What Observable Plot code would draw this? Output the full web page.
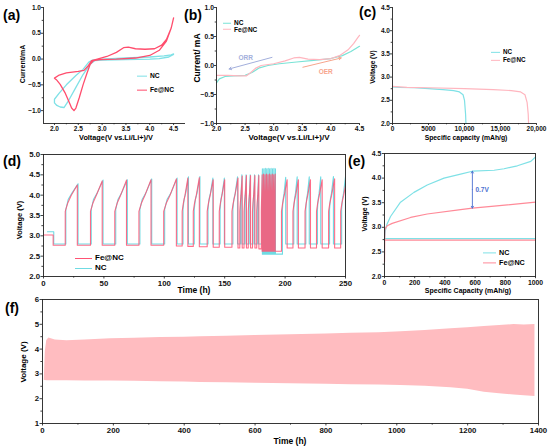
<!DOCTYPE html>
<html><head><meta charset="utf-8">
<script src="https://cdn.jsdelivr.net/npm/d3@7"></script>
<script src="https://cdn.jsdelivr.net/npm/@observablehq/plot@0.6"></script>
<style>
body{margin:0;background:#fff;}
#fig{position:relative;width:550px;height:448px;overflow:hidden;background:#fff;font-family:"Liberation Sans",Arial,sans-serif;font-weight:bold;color:#000;}
.t{position:absolute;white-space:nowrap;font-weight:bold;line-height:1;}
.rot{transform:translate(-50%,-50%) rotate(-90deg);}
.ctr{transform:translate(-50%,-50%);}
.lft{transform:translate(0,-50%);}
.leg{position:absolute;display:flex;align-items:center;white-space:nowrap;line-height:1;transform:translate(0,-50%);font-weight:bold;}
.sw{display:inline-block;height:0;border-top:1.6px solid;margin-right:3px;}
</style></head><body><div id="fig"></div><script>
// ---------- data ----------
// (a) CV curves
const aNC_V = [4.5,4.4,4.2,4.0,3.5,3.0,2.85,2.75,2.6,2.45,2.3,2.2,2.12,2.05,2.0,2.0,2.1,2.25,2.45,2.6,2.72,2.8,3.0,3.5,4.0,4.3,4.45,4.5];
const aNC_I = [0.09,0.04,0.01,0.0,-0.01,-0.02,-0.03,-0.1,-0.3,-0.55,-0.8,-0.94,-0.93,-0.9,-0.85,-0.78,-0.66,-0.5,-0.32,-0.2,-0.06,-0.02,0.0,0.02,0.04,0.06,0.08,0.1];
const aFe_V = [2.0,2.1,2.25,2.5,2.62,2.7,2.78,2.9,3.1,3.3,3.45,3.55,3.7,3.9,4.1,4.25,4.35,4.45,4.5,4.45,4.35,4.2,4.0,3.7,3.3,2.95,2.82,2.75,2.68,2.6,2.52,2.45,2.41,2.36,2.3,2.22,2.12,2.04,2.0];
const aFe_I = [-0.37,-0.31,-0.27,-0.24,-0.22,-0.14,-0.03,0.0,0.05,0.13,0.22,0.23,0.2,0.19,0.2,0.27,0.38,0.6,0.8,0.6,0.35,0.17,0.07,0.02,0.0,-0.01,-0.03,-0.1,-0.28,-0.5,-0.75,-0.95,-1.0,-0.95,-0.82,-0.65,-0.49,-0.4,-0.37];
// (b) LSV curves
const bNC_V = [2.0,2.05,2.15,2.3,2.5,2.62,2.75,2.9,3.1,3.4,3.7,4.0,4.2,4.35,4.5];
const bNC_I = [-0.3,-0.23,-0.19,-0.18,-0.17,-0.12,-0.04,0.0,0.03,0.06,0.09,0.12,0.17,0.24,0.33];
const bFe_V = [2.0,2.2,2.4,2.52,2.6,2.68,2.78,3.0,3.2,3.35,3.45,3.6,3.8,4.0,4.15,4.3,4.4,4.47,4.5];
const bFe_I = [-0.17,-0.17,-0.18,-0.18,-0.12,-0.05,0.0,0.03,0.08,0.13,0.14,0.11,0.1,0.12,0.17,0.27,0.38,0.48,0.52];
const bArrowLabels = ["ORR","OER"];
const bArrowX1 = [2.97,3.51], bArrowY1 = [0.14,-0.03], bArrowX2 = [2.22,4.18], bArrowY2 = [-0.06,0.13];
const bLabelX = [2.51,3.91], bLabelY = [0.13,-0.11];
// (c) discharge curves
const cNC_C = [0,1000,3000,5000,7000,8500,9300,9800,10000,10150,10200];
const cNC_V = [2.79,2.78,2.77,2.75,2.73,2.71,2.68,2.62,2.5,2.2,2.0];
const cFe_C = [0,2000,5000,10000,14000,16500,17800,18400,18700,18850,18900];
const cFe_V = [2.8,2.78,2.77,2.75,2.73,2.71,2.68,2.62,2.45,2.2,2.0];
// (d) cycling: initial segment + cycles (charge start, peak time, peak voltage, following discharge voltage)
const dFeInitT = [0,8,8], dFeInitV = [3.02,3.02,2.77];
const dFeStart = [18,38.9,59,79,99.5,114.8,124,135.5,145.5,156,162.5,166,169.5,173,176.5,180.3,181.5,182.7,183.9,185.1,186.3,187.5,188.7,189.9,191.1,197,206.5,216.5,226,236,246];
const dFePeak  = [28,48.6,68.7,89,110,119.5,129,140.5,150,161,164.5,168,171.4,175,178.3,181,182.2,183.4,184.6,185.8,187,188.2,189.4,190.6,191.8,201.7,211,221,230.7,241,251];
const dFePeakV = [4.25,4.35,4.37,4.38,4.4,4.42,4.43,4.38,4.38,4.42,4.47,4.48,4.48,4.48,4.48,4.5,4.52,4.5,4.52,4.5,4.52,4.5,4.52,4.5,4.52,4.38,4.38,4.38,4.38,4.4,4.4];
const dFeBase  = [2.77,2.77,2.77,2.77,2.75,2.74,2.73,2.72,2.72,2.7,2.7,2.7,2.7,2.7,2.68,2.62,2.62,2.62,2.62,2.62,2.62,2.62,2.62,2.62,2.62,2.7,2.7,2.7,2.7,2.7,2.7];
const dFeKneeV = [3.6,3.8,4.0];
const dNCInitT = [3.3,8.5,8.5], dNCInitV = [3.1,3.1,2.8];
const dNCStart = [18.5,39.5,59.8,79.8,100.3,115.5,124.8,136.2,146.2,156.8,163,166.5,170,173.5,177,180.6,181.8,183,184.2,185.4,186.6,187.8,189,190.2,191.4,197.8,207.2,217.2,226.8,236.8,246.8];
const dNCPeak  = [28.6,49.3,69.4,89.6,110.6,120,129.5,140.2,149.7,160.6,164.2,167.7,171.1,174.7,178,181.2,182.4,183.6,184.8,186,187.2,188.4,189.6,190.8,192,200.5,210,220,229.5,240,250];
const dNCPeakV = [4.28,4.37,4.38,4.4,4.42,4.45,4.46,4.42,4.42,4.45,4.5,4.5,4.5,4.5,4.5,4.65,4.65,4.66,4.65,4.66,4.65,4.66,4.65,4.66,4.65,4.44,4.45,4.45,4.45,4.46,4.46];
const dNCBase  = [2.8,2.8,2.8,2.8,2.8,2.8,2.8,2.8,2.8,2.8,2.8,2.8,2.8,2.8,2.8,2.55,2.55,2.55,2.55,2.55,2.55,2.55,2.55,2.55,2.55,2.8,2.8,2.8,2.8,2.8,2.8];
const dNCKneeV = [3.65,3.9,4.05];
const kneeFrac = [0,0.2,0.5];
// (e) charge/discharge profile
const eNC_C = [0,5,15,40,106,195,283,394,504,582,726,792,880,969,1000];
const eNC_V = [2.77,2.92,3.05,3.22,3.51,3.71,3.86,4.0,4.08,4.14,4.16,4.19,4.25,4.34,4.43];
const eFe_C = [0,2,10,18,51,173,283,504,582,726,1000];
const eFe_V = [2.3,2.95,3.0,3.03,3.08,3.2,3.27,3.36,3.39,3.43,3.51];
const eDisC = [0,1000];
const eNC_D = [2.77,2.77];
const eFe_D = [2.74,2.74];
const eGapX = 582, eGapLow = 3.39, eGapHigh = 4.14, eGapLabel = "0.7V";
// (f) long-term cycling envelope
const fTime  = [5,8,12,18,36,69,120,192,260,333,400,446,520,600,700,800,871,950,1012,1080,1153,1200,1247,1290,1331,1360,1390];
const fUpper = [2.75,3.9,4.35,4.45,4.37,4.34,4.37,4.42,4.44,4.47,4.48,4.5,4.52,4.55,4.58,4.61,4.64,4.66,4.7,4.75,4.82,4.86,4.91,4.95,4.99,4.97,4.99];
const fLower = [2.74,2.73,2.72,2.72,2.72,2.72,2.71,2.71,2.7,2.68,2.67,2.65,2.64,2.62,2.6,2.58,2.56,2.55,2.53,2.5,2.44,2.38,2.26,2.2,2.15,2.12,2.09];
// tick labels
const aXT = [2.0,2.5,3.0,3.5,4.0,4.5], aYT = [-1.0,-0.5,0.0,0.5,1.0];
const cXT = [0,5000,10000,15000,20000], cXL = ["0","5000","10,000","15,000","20,000"];
const cYT = [2.0,2.5,3.0,3.5,4.0,4.5];
const dXT = [0,50,100,150,200,250], dYT = [2.0,2.5,3.0,3.5,4.0,4.5,5.0];
const eXT = [0,200,400,600,800,1000], eYT = [2.0,2.5,3.0,3.5,4.0,4.5];
const fXT = [0,200,400,600,800,1000,1200,1400], fYT = [1,2,3,4,5,6];

// ---------- helpers ----------
const zip = (xs, ys) => xs.map((x, i) => ({x, y: ys[i]}));
const mid = (t) => t.slice(0, -1).map((v, i) => (v + t[i + 1]) / 2);
function cycles(initT, initV, starts, peaks, peakV, base, kneeV) {
  const pts = initT.map((t, i) => ({x: t, y: initV[i]}));
  let prev = initV[initV.length - 1];
  starts.forEach((s, i) => {
    const d = peaks[i] - s;
    pts.push({x: s, y: prev});
    kneeV.forEach((v, k) => pts.push({x: s + d * kneeFrac[k], y: v}));
    pts.push({x: peaks[i], y: peakV[i]});
    pts.push({x: peaks[i], y: base[i]});
    prev = base[i];
  });
  return pts;
}
const fig = document.getElementById("fig");
function place(el, left, top) { el.style.position = "absolute"; el.style.left = left + "px"; el.style.top = top + "px"; fig.appendChild(el); }
function text(str, x, y, size, cls, color) {
  const d = document.createElement("div"); d.className = "t " + cls; d.textContent = str;
  d.style.left = x + "px"; d.style.top = y + "px"; d.style.fontSize = size + "px"; if (color) d.style.color = color;
  fig.appendChild(d);
}
function legend(items, x, y, gap, size, swW) {
  items.forEach(([label, color], i) => {
    const d = document.createElement("div"); d.className = "leg";
    d.style.left = x + "px"; d.style.top = (y + i * gap) + "px"; d.style.fontSize = size + "px";
    const s = document.createElement("span"); s.className = "sw"; s.style.width = swW + "px"; s.style.borderTopColor = color;
    d.appendChild(s); d.appendChild(document.createTextNode(label)); fig.appendChild(d);
  });
}
function panel(o) {
  const fmt = (ticks, labels, f) => labels ? (d) => labels[ticks.indexOf(d)] : f;
  const ts = o.ts ?? 2.5, tp = o.tp ?? 1.5;
  const marks = [
    Plot.axisX({ticks: o.xT, tickSize: ts, tickPadding: tp, tickFormat: fmt(o.xT, o.xL, o.xF), label: null, strokeWidth: 0.8}),
    Plot.axisX({ticks: mid(o.xT), tickSize: ts * 0.65, tickFormat: () => "", label: null, strokeWidth: 0.8}),
    Plot.axisY({ticks: o.yT, tickSize: ts, tickPadding: tp, tickFormat: fmt(o.yT, o.yL, o.yF), label: null, strokeWidth: 0.8}),
    Plot.axisY({ticks: mid(o.yT), tickSize: ts * 0.65, tickFormat: () => "", label: null, strokeWidth: 0.8}),
    ...o.marks
  ];
  if (o.frame) marks.push(Plot.frame({stroke: "#222", strokeWidth: 0.9}));
  else { marks.push(Plot.ruleX([o.xD[0]], {stroke: "#222", strokeWidth: 0.9})); marks.push(Plot.ruleY([o.yD[0]], {stroke: "#222", strokeWidth: 0.9})); }
  const svg = Plot.plot({
    width: o.w, height: o.h, marginLeft: o.ml, marginRight: o.mr, marginTop: o.mt, marginBottom: o.mb,
    x: {domain: o.xD}, y: {domain: o.yD},
    style: {fontFamily: "'Liberation Sans', Arial, sans-serif", fontSize: o.fs + "px", fontWeight: "bold", background: "transparent", color: "#111", overflow: "visible"},
    marks
  });
  place(svg, o.left, o.top);
}
const f1 = d3.format(".1f");
const RED = "#ff4d6d", CYAN = "#7fe1e6", PINK = "#ffb6bf";

// (a)
panel({left: 0, top: 0, w: 190, h: 145, ml: 43, mr: 5, mt: 7, mb: 22, xD: [1.77, 4.75], yD: [-1.25, 1.0], fs: 6.5, ts: 2, tp: 0.5,
  xT: aXT, xF: f1, yT: aYT, yF: f1, frame: false,
  marks: [
    Plot.line(zip(aNC_V, aNC_I), {x: "x", y: "y", stroke: CYAN, strokeWidth: 1.3}),
    Plot.line(zip(aFe_V, aFe_I), {x: "x", y: "y", stroke: RED, strokeWidth: 1.3})
  ]});
// (b)
const bArrows = bArrowLabels.map((l, i) => ({l, x1: bArrowX1[i], y1: bArrowY1[i], x2: bArrowX2[i], y2: bArrowY2[i], lx: bLabelX[i], ly: bLabelY[i]}));
const bCol = ["#a3afdc", "#f7a58c"];
panel({left: 190, top: 0, w: 180, h: 145, ml: 26, mr: 11, mt: 7, mb: 22, xD: [2.0, 4.5], yD: [-1.0, 1.0], fs: 6.8, ts: 2, tp: 0.5,
  xT: aXT, xF: f1, yT: aYT, yF: f1, frame: false,
  marks: [
    Plot.line(zip(bNC_V, bNC_I), {x: "x", y: "y", stroke: "#79e3d6", strokeWidth: 1.2}),
    Plot.line(zip(bFe_V, bFe_I), {x: "x", y: "y", stroke: PINK, strokeWidth: 1.2}),
    Plot.arrow(bArrows, {x1: "x1", y1: "y1", x2: "x2", y2: "y2", stroke: (d, i) => bCol[i], strokeWidth: 1, headLength: 4}),
    Plot.text(bArrows, {x: "lx", y: "ly", text: "l", fill: (d, i) => bCol[i], fontSize: 6.5, fontWeight: "bold"})
  ]});
// (c)
panel({left: 365, top: 0, w: 185, h: 145, ml: 27, mr: 14, mt: 7, mb: 22, xD: [0, 20000], yD: [2.0, 4.5], fs: 6.5, ts: 2, tp: 0.5,
  xT: cXT, xL: cXL, yT: cYT, yF: f1, frame: false,
  marks: [
    Plot.line(zip(cNC_C, cNC_V), {x: "x", y: "y", stroke: CYAN, strokeWidth: 1.2}),
    Plot.line(zip(cFe_C, cFe_V), {x: "x", y: "y", stroke: PINK, strokeWidth: 1.2})
  ]});
// (d)
const dFe = cycles(dFeInitT, dFeInitV, dFeStart, dFePeak, dFePeakV, dFeBase, dFeKneeV);
const dNC = cycles(dNCInitT, dNCInitV, dNCStart, dNCPeak, dNCPeakV, dNCBase, dNCKneeV);
panel({left: 0, top: 145, w: 360, h: 150, ml: 43, mr: 15, mt: 9, mb: 19, xD: [0, 250], yD: [2.0, 5.0], fs: 7.8, ts: 2.5, tp: 1,
  xT: dXT, xF: d3.format("d"), yT: dYT, yF: f1, frame: true,
  marks: [
    Plot.line(dNC, {x: "x", y: "y", stroke: "#6fdbe3", strokeWidth: 1.1, clip: true}),
    Plot.line(dFe, {x: "x", y: "y", stroke: "#ff5474", strokeWidth: 1.1, strokeOpacity: 0.85, clip: true})
  ]});
// (e)
panel({left: 360, top: 145, w: 190, h: 150, ml: 24, mr: 15, mt: 8, mb: 19, xD: [0, 1000], yD: [2.0, 4.5], fs: 6.8, ts: 2.2, tp: 1,
  xT: eXT, xF: d3.format("d"), yT: eYT, yF: f1, frame: true,
  marks: [
    Plot.line(zip(eDisC, eNC_D), {x: "x", y: "y", stroke: CYAN, strokeWidth: 1.2}),
    Plot.line(zip(eDisC, eFe_D), {x: "x", y: "y", stroke: "#ff8a98", strokeWidth: 1.2}),
    Plot.line(zip(eNC_C, eNC_V), {x: "x", y: "y", stroke: CYAN, strokeWidth: 1.2}),
    Plot.line(zip(eFe_C, eFe_V), {x: "x", y: "y", stroke: "#ff8a98", strokeWidth: 1.2}),
    Plot.arrow([{y1: (eGapLow + eGapHigh) / 2, y2: eGapHigh}, {y1: (eGapLow + eGapHigh) / 2, y2: eGapLow}],
      {x1: () => eGapX, x2: () => eGapX, y1: "y1", y2: "y2", stroke: "#4a6fd0", strokeWidth: 0.9, headLength: 3.5}),
    Plot.text([eGapLabel], {x: () => eGapX, y: () => (eGapLow + eGapHigh) / 2, text: (d) => d, dx: 3, textAnchor: "start", fill: "#4a6fd0", fontSize: 6.5, fontWeight: "bold"})
  ]});
// (f)
panel({left: 0, top: 295, w: 550, h: 153, ml: 42, mr: 12, mt: 4, mb: 25, xD: [0, 1400], yD: [1, 6], fs: 7.8, ts: 2.5, tp: 1,
  xT: fXT, xF: d3.format("d"), yT: fYT, yF: d3.format("d"), frame: true,
  marks: [
    Plot.areaY(fTime.map((t, i) => ({t, lo: fLower[i], hi: fUpper[i]})), {x: "t", y1: "lo", y2: "hi", fill: "#ffbcc0"})
  ]});

// ---------- text: panel letters, axis titles, legends ----------
[["(a)", 3, 15], ["(b)", 184, 15], ["(c)", 359, 12], ["(d)", 3, 161], ["(e)", 348, 161], ["(f)", 5, 308]]
  .forEach(([s, x, y]) => text(s, x, y, 14, "lft"));
text("Current/mA", 22, 64, 7, "rot");
text("Voltage(V vs.Li/Li+)/V", 116, 137.5, 7.3, "ctr");
text("Current/ mA", 197, 58, 8.5, "rot");
text("Voltage(V vs.Li/Li+)/V", 289, 138, 8, "ctr");
text("Voltage (V)", 373, 67, 6.5, "rot");
text("Specific capacity (mAh/g)", 466, 138, 6.8, "ctr");
text("Voltage (V)", 20, 220, 7.5, "rot");
text("Time (h)", 194, 290, 8.5, "ctr");
text("Voltage (V)", 365, 214, 6.8, "rot");
text("Specific Capacity (mAh/g)", 468, 290, 7, "ctr");
text("Voltage (V)", 24, 362, 8, "rot");
text("Time (h)", 290, 441, 8.5, "ctr");
legend([["NC", CYAN], ["Fe@NC", RED]], 137, 76, 14, 6.7, 10);
legend([["NC", "#79e3d6"], ["Fe@NC", PINK]], 223, 23, 6.7, 6.5, 8);
legend([["NC", CYAN], ["Fe@NC", PINK]], 491, 52, 8, 6.3, 9);
legend([["Fe@NC", "#ff5474"], ["NC", "#6fdbe3"]], 75, 258, 10, 8, 17);
legend([["NC", CYAN], ["Fe@NC", "#ff8a98"]], 483, 253, 9.5, 7.2, 13);
</script></body></html>
